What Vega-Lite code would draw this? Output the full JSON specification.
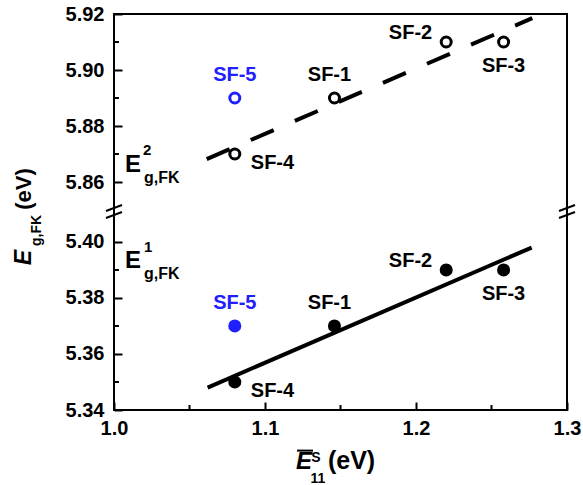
{
  "$schema": "https://vega.github.io/schema/vega-lite/v6.json",
  "width": 453,
  "height": 396,
  "autosize": {"type": "none"},
  "padding": {"left": 114, "top": 14, "right": 16, "bottom": 75},
  "background": "white",
  "config": {
    "view": {"stroke": "black", "strokeWidth": 2},
    "axis": {"domain": false, "grid": false, "tickColor": "black", "tickWidth": 2, "labelFont": "Liberation Sans", "labelFontWeight": "bold", "labelFontSize": 20, "labelColor": "black", "title": null},
    "text": {"font": "Liberation Sans", "fontWeight": "bold", "color": "black"}
  },
  "datasets": {
    "pts": [
      {"label": "SF-1", "band": "E1", "x": 1.146, "y": 5.37},
      {"label": "SF-2", "band": "E1", "x": 1.22, "y": 5.39},
      {"label": "SF-3", "band": "E1", "x": 1.258, "y": 5.39},
      {"label": "SF-4", "band": "E1", "x": 1.08, "y": 5.35},
      {"label": "SF-5", "band": "E1", "x": 1.08, "y": 5.37},
      {"label": "SF-1", "band": "E2", "x": 1.146, "y": 5.89},
      {"label": "SF-2", "band": "E2", "x": 1.22, "y": 5.91},
      {"label": "SF-3", "band": "E2", "x": 1.258, "y": 5.91},
      {"label": "SF-4", "band": "E2", "x": 1.08, "y": 5.87},
      {"label": "SF-5", "band": "E2", "x": 1.08, "y": 5.89}
    ],
    "fits": [
      {"band": "E1", "x": 1.062, "y": 5.348},
      {"band": "E1", "x": 1.2766, "y": 5.398},
      {"band": "E2", "x": 1.0614, "y": 5.8682},
      {"band": "E2", "x": 1.277, "y": 5.9185}
    ],
    "breaks": [
      {"x": 0.9947, "x2": 1.0053, "y": 5.84964, "y2": 5.85179},
      {"x": 0.9947, "x2": 1.0053, "y": 5.40857, "y2": 5.4107},
      {"x": 1.2947, "x2": 1.3053, "y": 5.84964, "y2": 5.85179},
      {"x": 1.2947, "x2": 1.3053, "y": 5.40857, "y2": 5.4107}
    ],
    "minorX": [
      {"x": 1.05, "y": 5.34, "y2": 5.34179},
      {"x": 1.15, "y": 5.34, "y2": 5.34179},
      {"x": 1.25, "y": 5.34, "y2": 5.34179}
    ],
    "minorY": [
      {"x": 1.0, "x2": 1.00331, "y": 5.35},
      {"x": 1.0, "x2": 1.00331, "y": 5.37},
      {"x": 1.0, "x2": 1.00331, "y": 5.39},
      {"x": 1.0, "x2": 1.00331, "y": 5.87},
      {"x": 1.0, "x2": 1.00331, "y": 5.89},
      {"x": 1.0, "x2": 1.00331, "y": 5.91}
    ],
    "bar": [{"x": 1.1212, "x2": 1.1318, "y": 5.3255}],
    "notes": [
      {"part": "annE", "t": "E", "x": 1.0073, "y": 5.8636},
      {"part": "annE", "t": "E", "x": 1.0073, "y": 5.3907},
      {"part": "annSup", "t": "2", "x": 1.0192, "y": 5.8696},
      {"part": "annSup", "t": "1", "x": 1.0199, "y": 5.3964},
      {"part": "annSub", "t": "g,FK", "x": 1.0199, "y": 5.8596},
      {"part": "annSub", "t": "g,FK", "x": 1.0199, "y": 5.3868},
      {"part": "ytE", "t": "E", "x": 0.94007, "y": 5.39446},
      {"part": "ytSub", "t": "g,FK", "x": 0.94901, "y": 5.40411},
      {"part": "ytEV", "t": "(eV)", "x": 0.9404, "y": 5.8575},
      {"part": "xtE", "t": "E", "x": 1.1258, "y": 5.3189},
      {"part": "xtSup", "t": "S", "x": 1.1338, "y": 5.3214},
      {"part": "xtSub", "t": "11", "x": 1.1351, "y": 5.3139},
      {"part": "xtEV", "t": "(eV)", "x": 1.1417, "y": 5.3189}
    ]
  },
  "encoding": {
    "x": {
      "field": "x", "type": "quantitative",
      "scale": {"domain": [1.0, 1.3], "nice": false, "zero": false},
      "axis": {
        "values": [1.0, 1.1, 1.2, 1.3],
        "format": ".1f",
        "tickSize": -8,
        "labelPadding": 16, "labelFlush": false, "labelOverlap": false, "title": null
      }
    },
    "y": {
      "field": "y", "type": "quantitative",
      "scale": {"domain": [5.34, 5.4107, 5.8493, 5.92], "range": [396, 198, 198, 0], "nice": false, "zero": false},
      "axis": {
        "values": [5.34, 5.36, 5.38, 5.40, 5.86, 5.88, 5.90, 5.92],
        "format": ".2f",
        "tickSize": -8,
        "labelPadding": 18, "labelFlush": false, "labelOverlap": false, "labelBaseline": "middle", "title": null
      }
    }
  },
  "layer": [
    {"data": {"name": "fits"}, "transform": [{"filter": "datum.band=='E1'"}], "mark": {"type": "line", "color": "black", "strokeWidth": 4}},
    {"data": {"name": "fits"}, "transform": [{"filter": "datum.band=='E2'"}], "mark": {"type": "line", "color": "black", "strokeWidth": 4, "strokeDash": [25, 23]}},
    {"data": {"name": "breaks"}, "mark": {"type": "rule", "color": "black", "strokeWidth": 2}, "encoding": {"x2": {"field": "x2"}, "y2": {"field": "y2"}}},
    {"data": {"name": "minorX"}, "mark": {"type": "rule", "color": "black", "strokeWidth": 2}, "encoding": {"y2": {"field": "y2"}}},
    {"data": {"name": "minorY"}, "mark": {"type": "rule", "color": "black", "strokeWidth": 2}, "encoding": {"x2": {"field": "x2"}}},
    {"data": {"name": "pts"}, "transform": [{"filter": "datum.band=='E1'"}],
      "mark": {"type": "point", "shape": "circle", "filled": true, "size": 170, "opacity": 1},
      "encoding": {"color": {"condition": {"test": "datum.label=='SF-5'", "value": "#2020ff"}, "value": "black"}}},
    {"data": {"name": "pts"}, "transform": [{"filter": "datum.band=='E2'"}],
      "mark": {"type": "point", "shape": "circle", "filled": false, "fill": "white", "fillOpacity": 1, "size": 100, "strokeWidth": 3, "opacity": 1},
      "encoding": {"color": {"condition": {"test": "datum.label=='SF-5'", "value": "#2020ff"}, "value": "black"}}},
    {"data": {"name": "pts"}, "transform": [{"filter": "datum.label=='SF-4'"}],
      "mark": {"type": "text", "align": "left", "baseline": "middle", "dx": 16, "dy": 9, "fontSize": 20},
      "encoding": {"text": {"field": "label"}}},
    {"data": {"name": "pts"}, "transform": [{"filter": "datum.label=='SF-1'"}],
      "mark": {"type": "text", "align": "center", "baseline": "middle", "dx": -5, "dy": -23, "fontSize": 20},
      "encoding": {"text": {"field": "label"}}},
    {"data": {"name": "pts"}, "transform": [{"filter": "datum.label=='SF-5'"}],
      "mark": {"type": "text", "align": "center", "baseline": "middle", "dx": 0, "dy": -23, "fontSize": 20, "color": "#2020ff"},
      "encoding": {"text": {"field": "label"}}},
    {"data": {"name": "pts"}, "transform": [{"filter": "datum.label=='SF-2'"}],
      "mark": {"type": "text", "align": "right", "baseline": "middle", "dx": -14, "dy": -9, "fontSize": 20},
      "encoding": {"text": {"field": "label"}}},
    {"data": {"name": "pts"}, "transform": [{"filter": "datum.label=='SF-3'"}],
      "mark": {"type": "text", "align": "center", "baseline": "middle", "dx": 0, "dy": 24, "fontSize": 20},
      "encoding": {"text": {"field": "label"}}},
    {"data": {"name": "notes"}, "transform": [{"filter": "datum.part=='annE'"}],
      "mark": {"type": "text", "align": "left", "baseline": "alphabetic", "fontSize": 24},
      "encoding": {"text": {"field": "t"}}},
    {"data": {"name": "notes"}, "transform": [{"filter": "datum.part=='annSup'"}],
      "mark": {"type": "text", "align": "left", "baseline": "alphabetic", "fontSize": 15},
      "encoding": {"text": {"field": "t"}}},
    {"data": {"name": "notes"}, "transform": [{"filter": "datum.part=='annSub'"}],
      "mark": {"type": "text", "align": "left", "baseline": "alphabetic", "fontSize": 16},
      "encoding": {"text": {"field": "t"}}},
    {"data": {"name": "notes"}, "transform": [{"filter": "datum.part=='ytE'"}],
      "mark": {"type": "text", "align": "center", "baseline": "middle", "angle": 270, "fontSize": 23, "fontStyle": "italic"},
      "encoding": {"text": {"field": "t"}}},
    {"data": {"name": "notes"}, "transform": [{"filter": "datum.part=='ytSub'"}],
      "mark": {"type": "text", "align": "center", "baseline": "middle", "angle": 270, "fontSize": 14},
      "encoding": {"text": {"field": "t"}}},
    {"data": {"name": "notes"}, "transform": [{"filter": "datum.part=='ytEV'"}],
      "mark": {"type": "text", "align": "center", "baseline": "middle", "angle": 270, "fontSize": 22},
      "encoding": {"text": {"field": "t"}}},
    {"data": {"name": "notes"}, "transform": [{"filter": "datum.part=='xtE'"}],
      "mark": {"type": "text", "align": "center", "baseline": "alphabetic", "fontSize": 24, "fontStyle": "italic"},
      "encoding": {"text": {"field": "t"}}},
    {"data": {"name": "notes"}, "transform": [{"filter": "datum.part=='xtSup' || datum.part=='xtSub'"}],
      "mark": {"type": "text", "align": "center", "baseline": "alphabetic", "fontSize": 14},
      "encoding": {"text": {"field": "t"}}},
    {"data": {"name": "notes"}, "transform": [{"filter": "datum.part=='xtEV'"}],
      "mark": {"type": "text", "align": "left", "baseline": "alphabetic", "fontSize": 25},
      "encoding": {"text": {"field": "t"}}},
    {"data": {"name": "bar"}, "mark": {"type": "rule", "color": "black", "strokeWidth": 2}, "encoding": {"x2": {"field": "x2"}}}
  ]
}
